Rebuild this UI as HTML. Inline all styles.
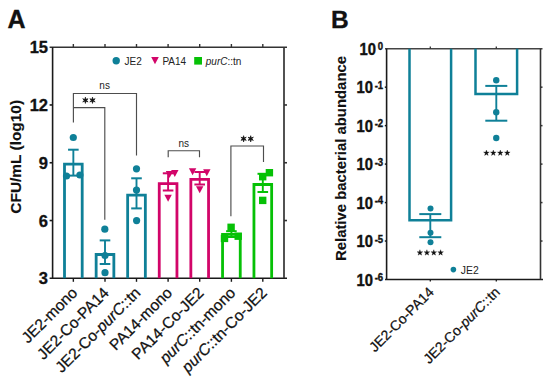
<!DOCTYPE html>
<html><head><meta charset="utf-8"><style>
html,body{margin:0;padding:0;background:#fff;width:550px;height:384px;overflow:hidden}
svg{display:block}
text{font-family:"Liberation Sans",sans-serif}
.b{font-weight:bold;fill:#111;stroke:#111;stroke-width:0.35px}
.t{stroke:#111;stroke-width:0.25px}
</style></head><body>
<svg width="550" height="384" viewBox="0 0 550 384">
<rect width="550" height="384" fill="#fff"/>
<line x1="49.6" y1="47.2" x2="287" y2="47.2" stroke="#333" stroke-width="1.6"/>
<line x1="52.6" y1="47.2" x2="52.6" y2="278.3" stroke="#1a1a1a" stroke-width="1.6"/>
<line x1="49.6" y1="278.3" x2="287" y2="278.3" stroke="#1a1a1a" stroke-width="1.6"/>
<line x1="284.0" y1="47.2" x2="284.0" y2="278.3" stroke="#333" stroke-width="1.7"/>
<line x1="49.6" y1="104.97" x2="52.6" y2="104.97" stroke="#1a1a1a" stroke-width="1.6"/>
<line x1="284.0" y1="104.97" x2="287" y2="104.97" stroke="#333" stroke-width="1.6"/>
<line x1="49.6" y1="162.75" x2="52.6" y2="162.75" stroke="#1a1a1a" stroke-width="1.6"/>
<line x1="284.0" y1="162.75" x2="287" y2="162.75" stroke="#333" stroke-width="1.6"/>
<line x1="49.6" y1="220.53" x2="52.6" y2="220.53" stroke="#1a1a1a" stroke-width="1.6"/>
<line x1="284.0" y1="220.53" x2="287" y2="220.53" stroke="#333" stroke-width="1.6"/>
<line x1="73.35" y1="44" x2="73.35" y2="47.2" stroke="#333" stroke-width="1.4"/>
<line x1="73.35" y1="278.3" x2="73.35" y2="281.8" stroke="#1a1a1a" stroke-width="1.4"/>
<line x1="105.0" y1="44" x2="105.0" y2="47.2" stroke="#333" stroke-width="1.4"/>
<line x1="105.0" y1="278.3" x2="105.0" y2="281.8" stroke="#1a1a1a" stroke-width="1.4"/>
<line x1="136.5" y1="44" x2="136.5" y2="47.2" stroke="#333" stroke-width="1.4"/>
<line x1="136.5" y1="278.3" x2="136.5" y2="281.8" stroke="#1a1a1a" stroke-width="1.4"/>
<line x1="168.1" y1="44" x2="168.1" y2="47.2" stroke="#333" stroke-width="1.4"/>
<line x1="168.1" y1="278.3" x2="168.1" y2="281.8" stroke="#1a1a1a" stroke-width="1.4"/>
<line x1="199.7" y1="44" x2="199.7" y2="47.2" stroke="#333" stroke-width="1.4"/>
<line x1="199.7" y1="278.3" x2="199.7" y2="281.8" stroke="#1a1a1a" stroke-width="1.4"/>
<line x1="231.4" y1="44" x2="231.4" y2="47.2" stroke="#333" stroke-width="1.4"/>
<line x1="231.4" y1="278.3" x2="231.4" y2="281.8" stroke="#1a1a1a" stroke-width="1.4"/>
<line x1="262.8" y1="44" x2="262.8" y2="47.2" stroke="#333" stroke-width="1.4"/>
<line x1="262.8" y1="278.3" x2="262.8" y2="281.8" stroke="#1a1a1a" stroke-width="1.4"/>
<text x="48.0" y="53.30" text-anchor="end" class="b" font-size="16.5">15</text>
<text x="48.0" y="111.07" text-anchor="end" class="b" font-size="16.5">12</text>
<text x="48.0" y="168.85" text-anchor="end" class="b" font-size="16.5">9</text>
<text x="48.0" y="226.62" text-anchor="end" class="b" font-size="16.5">6</text>
<text x="48.0" y="284.40" text-anchor="end" class="b" font-size="16.5">3</text>
<text transform="translate(20.6,156.8) rotate(-90)" text-anchor="middle" class="b" font-size="15.45" style="stroke-width:0.15px">CFU/mL (log10)</text>
<text x="7.5" y="27.8" class="b" font-size="25">A</text>
<path d="M64.50 278.3 V164.10 H82.20 V278.3" fill="none" stroke="#0f8098" stroke-width="2.8"/>
<path d="M96.15 278.3 V254.50 H113.85 V278.3" fill="none" stroke="#0f8098" stroke-width="2.8"/>
<path d="M127.65 278.3 V195.15 H145.35 V278.3" fill="none" stroke="#0f8098" stroke-width="2.8"/>
<path d="M159.25 278.3 V183.70 H176.95 V278.3" fill="none" stroke="#d20569" stroke-width="2.8"/>
<path d="M190.85 278.3 V179.40 H208.55 V278.3" fill="none" stroke="#d20569" stroke-width="2.8"/>
<path d="M222.55 278.3 V234.40 H240.25 V278.3" fill="none" stroke="#06c106" stroke-width="2.8"/>
<path d="M253.95 278.3 V184.50 H271.65 V278.3" fill="none" stroke="#06c106" stroke-width="2.8"/>
<line x1="73.35" y1="149.7" x2="73.35" y2="175.6" stroke="#0f8098" stroke-width="1.9"/>
<line x1="68.05" y1="149.7" x2="78.65" y2="149.7" stroke="#0f8098" stroke-width="2"/>
<line x1="68.05" y1="175.6" x2="78.65" y2="175.6" stroke="#0f8098" stroke-width="2"/>
<line x1="105.0" y1="240.4" x2="105.0" y2="264.0" stroke="#0f8098" stroke-width="1.9"/>
<line x1="99.70" y1="240.4" x2="110.30" y2="240.4" stroke="#0f8098" stroke-width="2"/>
<line x1="99.70" y1="264.0" x2="110.30" y2="264.0" stroke="#0f8098" stroke-width="2"/>
<line x1="136.5" y1="178.3" x2="136.5" y2="208.4" stroke="#0f8098" stroke-width="1.9"/>
<line x1="131.20" y1="178.3" x2="141.80" y2="178.3" stroke="#0f8098" stroke-width="2"/>
<line x1="131.20" y1="208.4" x2="141.80" y2="208.4" stroke="#0f8098" stroke-width="2"/>
<line x1="168.1" y1="173.3" x2="168.1" y2="190.5" stroke="#d20569" stroke-width="1.9"/>
<line x1="162.80" y1="173.3" x2="173.40" y2="173.3" stroke="#d20569" stroke-width="2"/>
<line x1="162.80" y1="190.5" x2="173.40" y2="190.5" stroke="#d20569" stroke-width="2"/>
<line x1="199.7" y1="172.0" x2="199.7" y2="184.5" stroke="#d20569" stroke-width="1.9"/>
<line x1="194.40" y1="172.0" x2="205.00" y2="172.0" stroke="#d20569" stroke-width="2"/>
<line x1="194.40" y1="184.5" x2="205.00" y2="184.5" stroke="#d20569" stroke-width="2"/>
<line x1="231.4" y1="231.2" x2="231.4" y2="237.0" stroke="#06c106" stroke-width="1.9"/>
<line x1="226.10" y1="231.2" x2="236.70" y2="231.2" stroke="#06c106" stroke-width="2"/>
<line x1="226.10" y1="237.0" x2="236.70" y2="237.0" stroke="#06c106" stroke-width="2"/>
<line x1="262.8" y1="173.8" x2="262.8" y2="192.0" stroke="#06c106" stroke-width="1.9"/>
<line x1="257.50" y1="173.8" x2="268.10" y2="173.8" stroke="#06c106" stroke-width="2"/>
<line x1="257.50" y1="192.0" x2="268.10" y2="192.0" stroke="#06c106" stroke-width="2"/>
<circle cx="73.3" cy="137.5" r="3.6" fill="#0f8098"/>
<circle cx="66.5" cy="176.0" r="3.6" fill="#0f8098"/>
<circle cx="79.9" cy="175.0" r="3.6" fill="#0f8098"/>
<circle cx="104.8" cy="229.2" r="3.6" fill="#0f8098"/>
<circle cx="105.0" cy="255.5" r="3.6" fill="#0f8098"/>
<circle cx="105.0" cy="272.7" r="3.6" fill="#0f8098"/>
<circle cx="136.5" cy="168.8" r="3.6" fill="#0f8098"/>
<circle cx="136.5" cy="190.1" r="3.6" fill="#0f8098"/>
<circle cx="136.6" cy="220.6" r="3.6" fill="#0f8098"/>
<path d="M165.80 171.00 H173.20 L169.50 178.00 Z" fill="#d20569"/>
<path d="M171.10 170.10 H178.50 L174.80 177.10 Z" fill="#d20569"/>
<path d="M164.40 194.80 H171.80 L168.10 201.80 Z" fill="#d20569"/>
<path d="M188.90 168.20 H196.30 L192.60 175.20 Z" fill="#d20569"/>
<path d="M203.10 169.30 H210.50 L206.80 176.30 Z" fill="#d20569"/>
<path d="M196.00 186.20 H203.40 L199.70 193.20 Z" fill="#d20569"/>
<rect x="227.40" y="223.60" width="7.4" height="7.4" fill="#06c106"/>
<rect x="220.80" y="234.70" width="7.4" height="7.4" fill="#06c106"/>
<rect x="234.50" y="232.50" width="7.4" height="7.4" fill="#06c106"/>
<rect x="265.70" y="169.00" width="7.4" height="7.4" fill="#06c106"/>
<rect x="259.00" y="173.00" width="7.4" height="7.4" fill="#06c106"/>
<rect x="259.00" y="196.70" width="7.4" height="7.4" fill="#06c106"/>
<path d="M73.4 122.4 V93.5 H136.5 V155.5" fill="none" stroke="#4d4d4d" stroke-width="1.15"/>
<path d="M73.4 107.6 V107.6 H104.8 V219.8" fill="none" stroke="#4d4d4d" stroke-width="1.15"/>
<path d="M168.2 157.3 V150.7 H199.5 V157.3" fill="none" stroke="#4d4d4d" stroke-width="1.15"/>
<path d="M230.9 216.3 V146.0 H263.5 V162.0" fill="none" stroke="#4d4d4d" stroke-width="1.15"/>
<text x="104.65" y="88.8" text-anchor="middle" font-size="10" fill="#222">ns</text>
<text x="183.8" y="146.8" text-anchor="middle" font-size="10" fill="#222">ns</text>
<polygon points="85.40,97.20 85.94,99.36 88.08,98.75 86.48,100.30 88.08,101.85 85.94,101.24 85.40,103.40 84.86,101.24 82.72,101.85 84.32,100.30 82.72,98.75 84.86,99.36" fill="#111" stroke="#111" stroke-width="0.7" stroke-linejoin="round"/>
<polygon points="92.50,97.20 93.04,99.36 95.18,98.75 93.58,100.30 95.18,101.85 93.04,101.24 92.50,103.40 91.96,101.24 89.82,101.85 91.42,100.30 89.82,98.75 91.96,99.36" fill="#111" stroke="#111" stroke-width="0.7" stroke-linejoin="round"/>
<polygon points="243.60,135.70 244.14,137.86 246.28,137.25 244.69,138.80 246.28,140.35 244.14,139.74 243.60,141.90 243.06,139.74 240.92,140.35 242.51,138.80 240.92,137.25 243.06,137.86" fill="#111" stroke="#111" stroke-width="0.7" stroke-linejoin="round"/>
<polygon points="250.70,135.70 251.24,137.86 253.38,137.25 251.78,138.80 253.38,140.35 251.24,139.74 250.70,141.90 250.16,139.74 248.02,140.35 249.61,138.80 248.02,137.25 250.16,137.86" fill="#111" stroke="#111" stroke-width="0.7" stroke-linejoin="round"/>
<circle cx="116.2" cy="60.8" r="3.7" fill="#0f8098"/>
<text x="124.5" y="64.5" font-size="10" fill="#222">JE2</text>
<path d="M151.2 57.0 H158.8 L155 64.3 Z" fill="#d20569"/>
<text x="162.4" y="64.5" font-size="10" fill="#222">PA14</text>
<rect x="194.2" y="57.0" width="7.8" height="7.6" fill="#06c106"/>
<text x="205.8" y="64.5" font-size="10" fill="#222"><tspan font-style="italic">purC</tspan>::tn</text>
<text transform="translate(78.35,293.8) rotate(-45)" text-anchor="end" font-size="15.6" fill="#111" class="t">JE2-mono</text>
<text transform="translate(110.00,293.8) rotate(-45)" text-anchor="end" font-size="15.6" fill="#111" class="t">JE2-Co-PA14</text>
<text transform="translate(141.50,293.8) rotate(-45)" text-anchor="end" font-size="15.6" fill="#111" class="t">JE2-Co-<tspan font-style="italic">purC</tspan>::tn</text>
<text transform="translate(173.10,293.8) rotate(-45)" text-anchor="end" font-size="15.6" fill="#111" class="t">PA14-mono</text>
<text transform="translate(204.70,293.8) rotate(-45)" text-anchor="end" font-size="15.6" fill="#111" class="t">PA14-Co-JE2</text>
<text transform="translate(236.40,293.8) rotate(-45)" text-anchor="end" font-size="15.6" fill="#111" class="t"><tspan font-style="italic">purC</tspan>::tn-mono</text>
<text transform="translate(267.80,293.8) rotate(-45)" text-anchor="end" font-size="15.6" fill="#111" class="t"><tspan font-style="italic">purC</tspan>::tn-Co-JE2</text>
<text x="331.1" y="27.7" class="b" font-size="24.5">B</text>
<line x1="385" y1="48.7" x2="542.5" y2="48.7" stroke="#444" stroke-width="1.6"/>
<line x1="386.6" y1="48.7" x2="386.6" y2="279.5" stroke="#1a1a1a" stroke-width="1.6"/>
<line x1="385" y1="279.5" x2="543" y2="279.5" stroke="#1a1a1a" stroke-width="1.6"/>
<line x1="540.5" y1="48.7" x2="540.5" y2="279.5" stroke="#333" stroke-width="1.6"/>
<line x1="384.8" y1="87.17" x2="386.6" y2="87.17" stroke="#1a1a1a" stroke-width="1.5"/>
<line x1="540.5" y1="87.17" x2="542.5" y2="87.17" stroke="#333" stroke-width="1.5"/>
<line x1="384.8" y1="125.63" x2="386.6" y2="125.63" stroke="#1a1a1a" stroke-width="1.5"/>
<line x1="540.5" y1="125.63" x2="542.5" y2="125.63" stroke="#333" stroke-width="1.5"/>
<line x1="384.8" y1="164.10" x2="386.6" y2="164.10" stroke="#1a1a1a" stroke-width="1.5"/>
<line x1="540.5" y1="164.10" x2="542.5" y2="164.10" stroke="#333" stroke-width="1.5"/>
<line x1="384.8" y1="202.57" x2="386.6" y2="202.57" stroke="#1a1a1a" stroke-width="1.5"/>
<line x1="540.5" y1="202.57" x2="542.5" y2="202.57" stroke="#333" stroke-width="1.5"/>
<line x1="384.8" y1="241.03" x2="386.6" y2="241.03" stroke="#1a1a1a" stroke-width="1.5"/>
<line x1="540.5" y1="241.03" x2="542.5" y2="241.03" stroke="#333" stroke-width="1.5"/>
<line x1="430.3" y1="46.5" x2="430.3" y2="48.7" stroke="#333" stroke-width="1.3"/>
<line x1="430.3" y1="279.5" x2="430.3" y2="281.6" stroke="#1a1a1a" stroke-width="1.3"/>
<line x1="496.3" y1="46.5" x2="496.3" y2="48.7" stroke="#333" stroke-width="1.3"/>
<line x1="496.3" y1="279.5" x2="496.3" y2="281.6" stroke="#1a1a1a" stroke-width="1.3"/>
<text transform="translate(383.2,54.90) scale(1,1.08)" text-anchor="end" class="b" font-size="14.8">10<tspan font-size="9.6" dx="1.8" dy="-4.2">0</tspan></text>
<text transform="translate(383.2,93.37) scale(1,1.08)" text-anchor="end" class="b" font-size="14.8">10<tspan font-size="9.6" dx="1.8" dy="-4.2">-1</tspan></text>
<text transform="translate(383.2,131.83) scale(1,1.08)" text-anchor="end" class="b" font-size="14.8">10<tspan font-size="9.6" dx="1.8" dy="-4.2">-2</tspan></text>
<text transform="translate(383.2,170.30) scale(1,1.08)" text-anchor="end" class="b" font-size="14.8">10<tspan font-size="9.6" dx="1.8" dy="-4.2">-3</tspan></text>
<text transform="translate(383.2,208.77) scale(1,1.08)" text-anchor="end" class="b" font-size="14.8">10<tspan font-size="9.6" dx="1.8" dy="-4.2">-4</tspan></text>
<text transform="translate(383.2,247.23) scale(1,1.08)" text-anchor="end" class="b" font-size="14.8">10<tspan font-size="9.6" dx="1.8" dy="-4.2">-5</tspan></text>
<text transform="translate(383.2,285.70) scale(1,1.08)" text-anchor="end" class="b" font-size="14.8">10<tspan font-size="9.6" dx="1.8" dy="-4.2">-6</tspan></text>
<text transform="translate(345.9,158.5) rotate(-90)" text-anchor="middle" class="b" font-size="14.88" style="stroke-width:0.1px">Relative bacterial abundance</text>
<path d="M409.50 48.7 V220.35 H451.10 V48.7" fill="none" stroke="#0f8098" stroke-width="2.5"/>
<path d="M475.50 48.7 V93.95 H517.10 V48.7" fill="none" stroke="#0f8098" stroke-width="2.5"/>
<line x1="430.3" y1="214.1" x2="430.3" y2="237.2" stroke="#0f8098" stroke-width="1.9"/>
<line x1="419.30" y1="214.1" x2="441.30" y2="214.1" stroke="#0f8098" stroke-width="2"/>
<line x1="419.30" y1="237.2" x2="441.30" y2="237.2" stroke="#0f8098" stroke-width="2"/>
<line x1="496.3" y1="85.9" x2="496.3" y2="120.7" stroke="#0f8098" stroke-width="1.9"/>
<line x1="485.30" y1="85.9" x2="507.30" y2="85.9" stroke="#0f8098" stroke-width="2"/>
<line x1="485.30" y1="120.7" x2="507.30" y2="120.7" stroke="#0f8098" stroke-width="2"/>
<circle cx="430.5" cy="208.6" r="3.0" fill="#0f8098"/>
<circle cx="430.5" cy="232.8" r="3.0" fill="#0f8098"/>
<circle cx="430.5" cy="242.2" r="3.0" fill="#0f8098"/>
<circle cx="496.25" cy="80.2" r="3.2" fill="#0f8098"/>
<circle cx="496.25" cy="112.2" r="3.2" fill="#0f8098"/>
<circle cx="496.25" cy="138.0" r="3.2" fill="#0f8098"/>
<polygon points="419.90,249.70 420.61,251.73 422.75,251.77 421.04,253.07 421.66,255.13 419.90,253.90 418.14,255.13 418.76,253.07 417.05,251.77 419.19,251.73" fill="#111" stroke="#111" stroke-width="0.3" stroke-linejoin="round"/>
<polygon points="426.90,249.70 427.61,251.73 429.75,251.77 428.04,253.07 428.66,255.13 426.90,253.90 425.14,255.13 425.76,253.07 424.05,251.77 426.19,251.73" fill="#111" stroke="#111" stroke-width="0.3" stroke-linejoin="round"/>
<polygon points="433.80,249.70 434.51,251.73 436.65,251.77 434.94,253.07 435.56,255.13 433.80,253.90 432.04,255.13 432.66,253.07 430.95,251.77 433.09,251.73" fill="#111" stroke="#111" stroke-width="0.3" stroke-linejoin="round"/>
<polygon points="440.60,249.70 441.31,251.73 443.45,251.77 441.74,253.07 442.36,255.13 440.60,253.90 438.84,255.13 439.46,253.07 437.75,251.77 439.89,251.73" fill="#111" stroke="#111" stroke-width="0.3" stroke-linejoin="round"/>
<polygon points="486.40,150.00 487.11,152.03 489.25,152.07 487.54,153.37 488.16,155.43 486.40,154.20 484.64,155.43 485.26,153.37 483.55,152.07 485.69,152.03" fill="#111" stroke="#111" stroke-width="0.3" stroke-linejoin="round"/>
<polygon points="493.30,150.00 494.01,152.03 496.15,152.07 494.44,153.37 495.06,155.43 493.30,154.20 491.54,155.43 492.16,153.37 490.45,152.07 492.59,152.03" fill="#111" stroke="#111" stroke-width="0.3" stroke-linejoin="round"/>
<polygon points="500.30,150.00 501.01,152.03 503.15,152.07 501.44,153.37 502.06,155.43 500.30,154.20 498.54,155.43 499.16,153.37 497.45,152.07 499.59,152.03" fill="#111" stroke="#111" stroke-width="0.3" stroke-linejoin="round"/>
<polygon points="507.30,150.00 508.01,152.03 510.15,152.07 508.44,153.37 509.06,155.43 507.30,154.20 505.54,155.43 506.16,153.37 504.45,152.07 506.59,152.03" fill="#111" stroke="#111" stroke-width="0.3" stroke-linejoin="round"/>
<circle cx="453.4" cy="269.6" r="2.8" fill="#0f8098"/>
<text x="460.8" y="273.6" font-size="10.4" fill="#222">JE2</text>
<text transform="translate(434.80,293) rotate(-45)" text-anchor="end" font-size="14" fill="#111" class="t">JE2-Co-PA14</text>
<text transform="translate(500.80,293) rotate(-45)" text-anchor="end" font-size="14" fill="#111" class="t">JE2-Co-<tspan font-style="italic">purC</tspan>::tn</text>
</svg>
</body></html>
